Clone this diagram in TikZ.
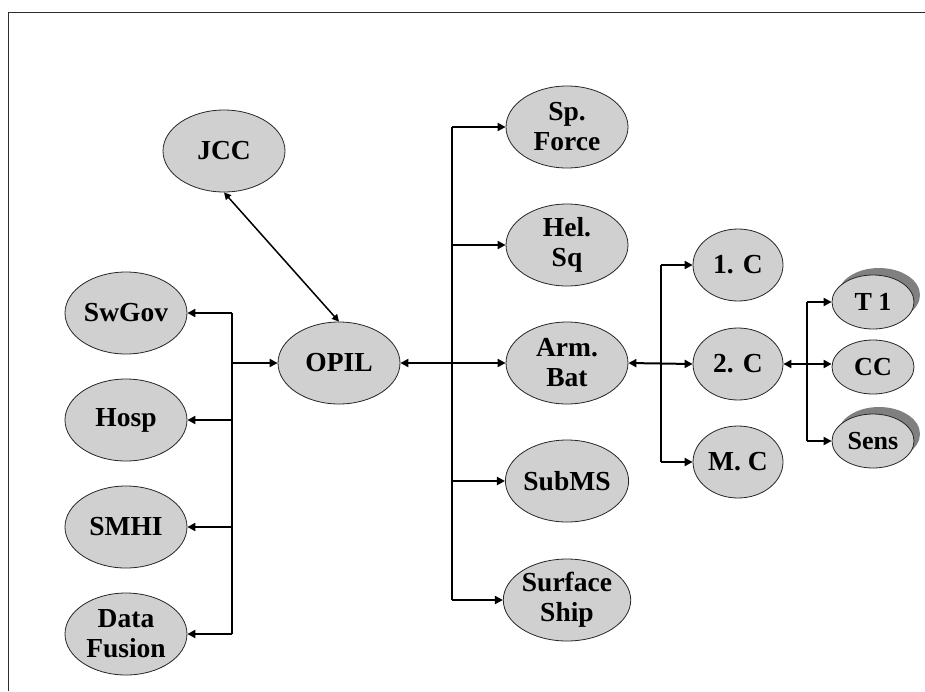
\documentclass[tikz,border=0pt]{standalone}
\usepackage{fontspec}
\setmainfont{Liberation Serif}
\usetikzlibrary{shapes.geometric,arrows.meta}
\definecolor{nodefill}{RGB}{208,208,208}
\definecolor{shadowgray}{RGB}{128,128,128}
\definecolor{framegray}{RGB}{45,45,45}
\begin{document}
\begin{tikzpicture}[x=1pt,y=-1pt,
  unit/.style={ellipse, draw=black!85, line width=0.8pt, fill=nodefill,
    inner sep=0pt, minimum width=122pt, minimum height=82pt, align=center,
    font=\fontsize{27.5}{30}\selectfont\bfseries},
  subunit/.style={unit, minimum width=90pt, minimum height=72pt},
  leaf/.style={unit, minimum width=82pt, minimum height=54pt,
    font=\fontsize{26}{28}\selectfont\bfseries},
  leafshadow/.style={ellipse, fill=shadowgray, inner sep=0pt,
    minimum width=82pt, minimum height=54pt},
  tip/.tip={Triangle[length=8pt,width=8pt]},
  bus/.style={line width=2pt},
  link/.style={line width=2pt, -tip},
  dlink/.style={line width=2pt, tip-tip},
  cmdlink/.style={line width=1.5pt, {Triangle[length=7pt,width=7pt]}-{Triangle[length=7pt,width=7pt]}}]
\useasboundingbox (0,0) rectangle (925,691);

% page frame
\draw[framegray, line width=1pt] (8,691) -- (8,12) -- (925,12);

% command level
\node[unit] (JCC) at (224,151) {JCC};
\node[unit] (OPIL) at (339,363) {OPIL};

% supporting agencies
\node[unit] (SwGov) at (126,313) {SwGov};
\node[unit] (Hosp) at (126,420) {Hosp};
\node[unit] (SMHI) at (126,527) {SMHI};
\node[unit] (DataFusion) at (126,634) {Data\\Fusion};

% forces
\node[unit] (SpForce) at (567,127) {Sp.\\Force};
\node[unit] (HelSq) at (567,245) {Hel.\\Sq};
\node[unit] (ArmBat) at (567,363) {Arm.\\Bat};
\node[unit] (SubMS) at (567,481) {SubMS};
\node[unit] (SurfaceShip) at (567,600) {Surface\\Ship};

% companies
\node[subunit] (C1) at (738,265) {1. C};
\node[subunit] (C2) at (738,364) {2. C};
\node[subunit] (MC) at (738,462) {M. C};

% platoons (stacked ones carry a shadow)
\node[leafshadow] at (879,295) {};
\node[leafshadow] at (879,434) {};
\node[leaf] (T1) at (873,302) {T 1};
\node[leaf] (CC) at (873,367) {CC};
\node[leaf] (Sens) at (873,441) {Sens};

% OPIL -- JCC
\draw[cmdlink] (JCC.south) -- (OPIL.north);

% left bus
\coordinate (lbTop) at (232,313);
\coordinate (lbBot) at (232,634);
\draw[bus] (lbTop) -- (lbBot);
\draw[link] (lbTop) -- (SwGov.east);
\draw[link] (Hosp.east -| lbTop) -- (Hosp.east);
\draw[link] (SMHI.east -| lbTop) -- (SMHI.east);
\draw[link] (lbBot) -- (DataFusion.east);
\draw[link] (OPIL.west -| lbTop) -- (OPIL.west);

% middle bus
\coordinate (mbTop) at (452,127);
\coordinate (mbBot) at (452,600);
\draw[bus] (mbTop) -- (mbBot);
\draw[link] (mbTop) -- (SpForce.west);
\draw[link] (HelSq.west -| mbTop) -- (HelSq.west);
\draw[link] (SubMS.west -| mbTop) -- (SubMS.west);
\draw[link] (mbBot) -- (SurfaceShip.west);
\draw[dlink] (OPIL.east) -- (ArmBat.west);

% company bus
\coordinate (cbTop) at (661,265);
\coordinate (cbBot) at (661,462);
\draw[bus] (cbTop) -- (cbBot);
\draw[link] (cbTop) -- (C1.west);
\draw[link] (cbBot) -- (MC.west);
\draw[dlink] (ArmBat.east) -- (C2.west);

% platoon bus
\coordinate (pbTop) at (807,302);
\coordinate (pbBot) at (807,441);
\draw[bus] (pbTop) -- (pbBot);
\draw[link] (pbTop) -- (T1.west);
\draw[link] (pbBot) -- (Sens.west);
\draw[dlink] (C2.east) -- (C2.east -| CC.west);
\end{tikzpicture}
\end{document}
